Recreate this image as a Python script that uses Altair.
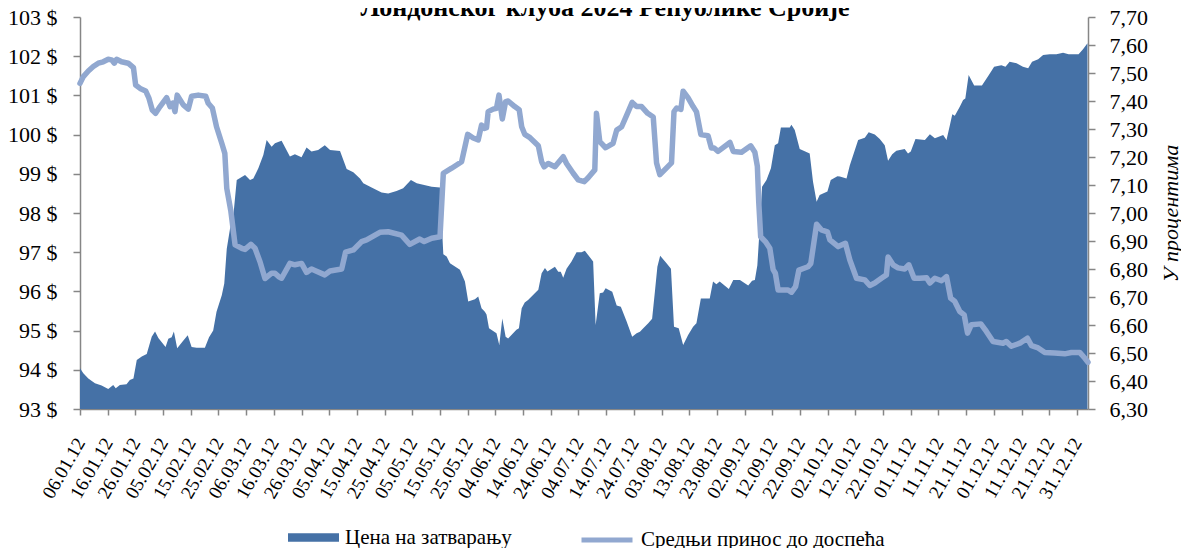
import altair as alt
import pandas as pd

# ---- data (day offset from 06.01.2012) ----
price_days = [0, 1.2, 3, 5.4, 7.8, 10.2, 12, 12.9, 14.4, 16.8, 18, 19.3, 20.5, 22.3, 24.1, 25.9, 27.1, 28.3,
              30.9, 31.9, 33.1, 33.9, 35.1, 36.9, 38.9, 40.3, 42.1, 45.1, 46.6, 48.1, 49.3, 51.2, 52.1, 53,
              54.2, 55.4, 56.6, 59.6, 61.4, 62.6, 64.4, 66.2, 67.4, 69.2, 70.4, 71.8, 72.8, 75.8, 77.6, 80,
              81.8, 83.6, 86, 88.4, 90.3, 93.9, 96.3, 98.7, 101.1, 102.3, 105.3, 108.9, 111.3, 114.3, 116.7,
              119.5, 121.6, 123.9, 127, 130, 131.2, 132.4, 133.6, 137.2, 139, 140.2, 142.6, 143.8, 145, 146.2,
              146.8, 147.7, 150.4, 151.4, 152.5, 153.7, 154.6, 157.6, 158.5, 159.5, 160.6, 161.8, 165.5, 166.7,
              167.9, 168.8, 171.5, 172.7, 173.6, 174.5, 175.7, 177.5, 179.3, 181.1, 182.3, 185.3, 186.2, 187.7,
              188.9, 189.8, 192.2, 193.8, 195.3, 197.4, 199.4, 201, 202.2, 203.4, 205.2, 206.6, 207.6, 208.5,
              209.5, 211.8, 213.4, 214.5, 216.2, 217.8, 219.6, 221.4, 222.6, 224.2, 227.4, 228.6, 229.8, 231,
              234.3, 235.9, 238.3, 241.3, 242.7, 243.7, 244.6, 245.5, 246.3, 247.9, 249.5, 250.9, 252.1, 253.1,
              256.3, 256.9, 258.1, 259.9, 263.5, 264.7, 266, 267.1, 269.9, 271.1, 273.5, 274.4, 276.8, 278, 281,
              283.4, 284.8, 287, 288.8, 290.6, 291.8, 293.3, 294.8, 297.8, 299, 300, 301.7, 305.1, 306.9, 308.7,
              311.7, 312.9, 314.1, 315, 315.9, 317.7, 318.9, 319.7, 320.9, 322.9, 325.7, 328.2, 330.1, 332.7,
              334.2, 335.7, 338.2, 340.5, 342.4, 343.8, 346, 347.8, 350.2, 352.6, 355, 357, 359.2, 360.6, 362.2,
              363.8]
price_vals = [94.04, 93.91, 93.78, 93.66, 93.60, 93.51, 93.61, 93.53, 93.61, 93.63, 93.74, 93.78, 94.25, 94.34,
              94.40, 94.84, 94.98, 94.81, 94.58, 94.79, 94.83, 94.98, 94.55, 94.71, 94.88, 94.58, 94.56, 94.56,
              94.83, 95.00, 95.48, 95.90, 96.20, 97.09, 97.61, 97.95, 98.84, 98.97, 98.84, 98.88, 99.14, 99.48,
              99.86, 99.69, 99.78, 99.82, 99.84, 99.44, 99.50, 99.42, 99.67, 99.57, 99.61, 99.73, 99.61, 99.58,
              99.12, 99.04, 98.88, 98.76, 98.65, 98.52, 98.50, 98.56, 98.63, 98.84, 98.76, 98.72, 98.67, 98.65,
              96.95, 96.89, 96.72, 96.55, 96.25, 95.74, 95.80, 95.87, 95.57, 95.48, 95.41, 95.06, 94.93, 94.63,
              95.31, 94.84, 94.80, 95.02, 95.06, 95.57, 95.72, 95.78, 96.04, 96.46, 96.60, 96.51, 96.63, 96.50,
              96.50, 96.35, 96.58, 96.76, 97.00, 97.00, 97.04, 96.76, 95.14, 95.95, 95.97, 96.08, 95.99, 95.64,
              95.61, 95.23, 94.84, 94.93, 94.97, 95.06, 95.19, 95.30, 95.99, 96.63, 96.91, 96.72, 96.58, 95.10,
              95.06, 94.63, 94.89, 95.10, 95.19, 95.82, 95.82, 96.25, 96.18, 96.25, 96.06, 96.29, 96.29, 96.15,
              96.27, 96.29, 96.67, 97.69, 98.67, 98.84, 99.14, 99.73, 99.78, 100.18, 100.18, 100.25, 100.12,
              99.63, 99.52, 98.80, 98.29, 98.46, 98.55, 98.84, 98.94, 98.93, 98.88, 99.22, 99.86, 99.92, 100.06,
              100.00, 99.89, 99.73, 99.33, 99.50, 99.59, 99.63, 99.52, 99.57, 99.89, 99.86, 100.01, 99.91, 99.99,
              99.86, 100.23, 100.52, 100.48, 100.71, 100.88, 100.92, 101.52, 101.25, 101.25, 101.52, 101.73,
              101.77, 101.73, 101.86, 101.82, 101.73, 101.69, 101.86, 101.92, 102.03, 102.05, 102.05, 102.09,
              102.05, 102.05, 102.05, 102.18, 102.33]

yield_days = [0, 1.2, 3, 4.8, 6.6, 8.4, 10.2, 11.4, 12.4, 13.2, 15, 17.4, 19.3, 20.1, 21.7, 23.7, 24.9, 26.1,
              27.3, 28.9, 31.3, 32.5, 33.5, 34.3, 35.1, 37.3, 39.1, 40.3, 42.7, 45.4, 46.3, 47.8, 49.3, 51.2,
              52.3, 53, 54.5, 56, 58.4, 59.6, 61.7, 63.2, 65, 66.8, 69.2, 70.4, 71.8, 72.8, 75.8, 77.6, 80, 81.8,
              83.6, 85.2, 88.4, 90.3, 94.5, 95.9, 98.7, 101.7, 103.5, 108.3, 111.3, 116.1, 119.1, 122.7, 124.3,
              127, 130, 131.2, 134.2, 137.8, 140, 142, 143.8, 145, 146, 146.8, 147.4, 149.2, 150.4, 151.3, 152.5,
              153.7, 154.6, 157, 158.6, 159.5, 160.6, 162.5, 165.5, 166.7, 167.6, 169.1, 171.5, 174.5, 175.7,
              178.1, 179.9, 182.1, 183.5, 185.9, 186.5, 187.7, 189.8, 192.5, 193.8, 195.6, 197.7, 199.4, 201,
              202.8, 205, 207, 208.2, 209.4, 211.2, 213.6, 214.5, 215.5, 217, 217.8, 219.6, 221.4, 222.6, 224.2,
              226.8, 228, 229, 230.4, 234.7, 235.9, 238.9, 242.2, 243.7, 244.6, 245.1, 245.8, 247.5, 249.1, 250.3,
              251.1, 252.1, 255.7, 256.9, 258.4, 259.6, 262.9, 263.9, 266, 267.7, 269.9, 270.8, 273.8, 276.4, 278,
              280.4, 283.4, 285.2, 287, 289.4, 291.2, 291.8, 293.6, 295.4, 297.8, 299.3, 301.2, 303.2, 305.7,
              306.9, 308.7, 311.1, 312.9, 314.4, 315.9, 317.7, 319.3, 320.5, 321.9, 325.3, 327.3, 329.7, 333.3,
              334.5, 336.3, 339.4, 342.1, 343.6, 346, 348.4, 352, 355.6, 358, 361, 362.8, 364]
yield_vals = [7.463, 7.487, 7.507, 7.523, 7.535, 7.540, 7.549, 7.547, 7.535, 7.549, 7.540, 7.535, 7.519, 7.457,
              7.445, 7.436, 7.410, 7.368, 7.356, 7.380, 7.412, 7.380, 7.392, 7.362, 7.421, 7.386, 7.371, 7.417,
              7.421, 7.417, 7.392, 7.375, 7.308, 7.249, 7.213, 7.088, 7.005, 6.886, 6.874, 6.870, 6.888, 6.874,
              6.826, 6.766, 6.785, 6.785, 6.772, 6.767, 6.820, 6.815, 6.820, 6.788, 6.800, 6.793, 6.779, 6.793,
              6.800, 6.860, 6.868, 6.898, 6.904, 6.931, 6.933, 6.921, 6.888, 6.907, 6.898, 6.910, 6.915, 7.142,
              7.160, 7.183, 7.281, 7.268, 7.261, 7.314, 7.302, 7.305, 7.362, 7.371, 7.374, 7.421, 7.336, 7.398,
              7.400, 7.380, 7.369, 7.308, 7.281, 7.269, 7.240, 7.183, 7.165, 7.177, 7.165, 7.201, 7.177, 7.142,
              7.118, 7.112, 7.126, 7.154, 7.356, 7.255, 7.233, 7.249, 7.296, 7.308, 7.356, 7.395, 7.380, 7.380,
              7.356, 7.343, 7.179, 7.137, 7.155, 7.179, 7.362, 7.375, 7.370, 7.435, 7.411, 7.380, 7.362, 7.280,
              7.276, 7.232, 7.232, 7.220, 7.252, 7.220, 7.217, 7.240, 7.217, 7.167, 7.040, 6.915, 6.898, 6.874,
              6.798, 6.785, 6.725, 6.725, 6.717, 6.737, 6.796, 6.808, 6.820, 6.960, 6.940, 6.933, 6.904, 6.880,
              6.892, 6.832, 6.767, 6.761, 6.741, 6.750, 6.767, 6.779, 6.843, 6.815, 6.804, 6.800, 6.815, 6.767,
              6.767, 6.769, 6.750, 6.767, 6.758, 6.773, 6.696, 6.684, 6.648, 6.636, 6.571, 6.601, 6.604, 6.577,
              6.541, 6.535, 6.541, 6.524, 6.535, 6.553, 6.526, 6.518, 6.502, 6.500, 6.497, 6.502, 6.502, 6.482,
              6.467]

x_tick_days = list(range(0, 361, 10))
x_tick_labels = ["06.01.12", "16.01.12", "26.01.12", "05.02.12", "15.02.12", "25.02.12", "06.03.12",
                 "16.03.12", "26.03.12", "05.04.12", "15.04.12", "25.04.12", "05.05.12", "15.05.12",
                 "25.05.12", "04.06.12", "14.06.12", "24.06.12", "04.07.12", "14.07.12", "24.07.12",
                 "03.08.12", "13.08.12", "23.08.12", "02.09.12", "12.09.12", "22.09.12", "02.10.12",
                 "12.10.12", "22.10.12", "01.11.12", "11.11.12", "21.11.12", "01.12.12", "11.12.12",
                 "21.12.12", "31.12.12"]
left_ticks = [93, 94, 95, 96, 97, 98, 99, 100, 101, 102, 103]
right_ticks = [6.3, 6.4, 6.5, 6.6, 6.7, 6.8, 6.9, 7.0, 7.1, 7.2, 7.3, 7.4, 7.5, 7.6, 7.7]

price_name = "Цена на затварању"
yield_name = "Средњи принос до доспећа"
title_text = "Лондонског клуба 2024 Републике Србије"
right_title = "У процентима"

price_df = pd.DataFrame({"day": price_days, "price": price_vals, "s": price_name})
yield_df = pd.DataFrame({"day": yield_days, "yld": yield_vals, "t": yield_name})
title_df = pd.DataFrame({"label": [title_text]})

FONT = "Liberation Serif"
AXIS_GRAY = "#868686"
AREA_COLOR = "#4571A6"
LINE_COLOR = "#91A8D0"

x_label_expr = "[" + ",".join("'%s'" % s for s in x_tick_labels) + "][round(datum.value/10)]"

x_axis = alt.Axis(values=x_tick_days, labelExpr=x_label_expr, labelAngle=-60, labelAlign="right",
                  labelBaseline="middle", labelPadding=24, tickSize=6, title=None, grid=False,
                  labelFontSize=19, labelOverlap=False, labelBound=False, labelFlush=False)
x_scale = alt.Scale(domain=[0, 364], nice=False, zero=False)

area = alt.Chart(price_df).mark_area(clip=True, opacity=1).encode(
    x=alt.X("day:Q", scale=x_scale, axis=x_axis),
    y=alt.Y("price:Q", scale=alt.Scale(domain=[93, 103], nice=False, zero=False),
            axis=alt.Axis(values=left_ticks, labelExpr="datum.value + ' $'", title=None, tickSize=7,
                          labelPadding=16, grid=False, labelFontSize=22)),
    fill=alt.Fill("s:N", scale=alt.Scale(domain=[price_name], range=[AREA_COLOR]),
                  legend=alt.Legend(title=None, orient="none", legendX=208, legendY=495,
                                    symbolType="M-1,-0.17H1V0.17H-1Z", symbolSize=2601,
                                    symbolStrokeWidth=0, labelOffset=6, padding=0, labelLimit=500)),
)

line = alt.Chart(yield_df).mark_line(strokeWidth=5.5, strokeCap="round", strokeJoin="round").encode(
    x=alt.X("day:Q", scale=x_scale, axis=x_axis),
    y=alt.Y("yld:Q", scale=alt.Scale(domain=[6.3, 7.7], nice=False, zero=False),
            axis=alt.Axis(orient="right", values=right_ticks,
                          labelExpr="replace(format(datum.value, '.2f'), '.', ',')",
                          title=right_title, titleFontStyle="italic", titleFontWeight="normal",
                          titleFontSize=22, titleAngle=270, titleX=82, titleY=196,
                          titleAlign="center", titleBaseline="middle", tickSize=7, labelPadding=14,
                          grid=False, labelFontSize=22)),
    stroke=alt.Stroke("t:N", scale=alt.Scale(domain=[yield_name], range=[LINE_COLOR]),
                      legend=alt.Legend(title=None, orient="none", legendX=499, legendY=495,
                                        symbolType="M-1,0H1", symbolSize=2601, symbolStrokeWidth=5,
                                        labelOffset=6, padding=0, labelLimit=500)),
)

title_mark = alt.Chart(title_df).mark_text(
    font=FONT, fontSize=26, fontWeight="bold", color="black", align="center", baseline="alphabetic"
).encode(text="label:N", x=alt.value(525), y=alt.value(-1))

chart = alt.layer(area, line, title_mark).resolve_scale(y="independent").properties(
    width=1008,
    height=392,
    autosize=alt.AutoSizeParams(type="none"),
    padding={"left": 72, "top": 9, "right": 93, "bottom": 150},
).configure(font=FONT).configure_view(stroke=None).configure_axis(
    labelFont=FONT, labelColor="black", titleFont=FONT, titleColor="black",
    domainColor=AXIS_GRAY, tickColor=AXIS_GRAY, domainWidth=1.5, tickWidth=1.5,
).configure_legend(labelFont=FONT, labelFontSize=21, labelColor="black")

chart.save("out.html", embed_options={"renderer": "svg", "actions": False})
